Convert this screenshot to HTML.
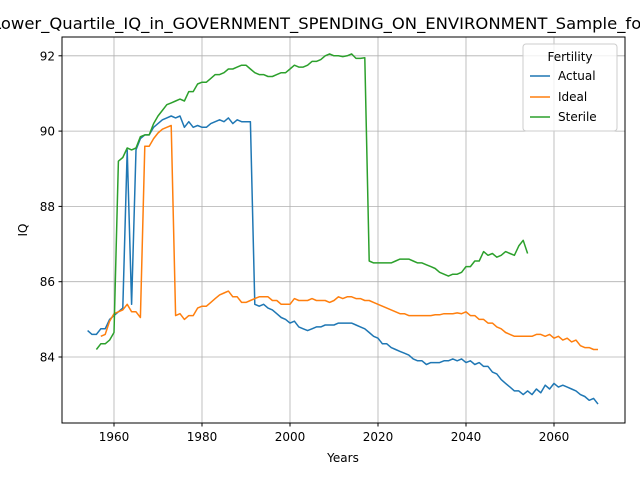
<!DOCTYPE html>
<html><head><meta charset="utf-8"><style>body{margin:0;background:#fff}svg{display:block;font-family:"DejaVu Sans","Liberation Sans",sans-serif}</style></head>
<body>
<svg id="chart" width="640" height="480" xmlns="http://www.w3.org/2000/svg">
<text x="320" y="29" text-anchor="middle" font-size="16" textLength="656" lengthAdjust="spacingAndGlyphs">Lower_Quartile_IQ_in_GOVERNMENT_SPENDING_ON_ENVIRONMENT_Sample_for</text>
<g id="grid"></g><g id="ticks"></g><g id="series"></g>
<rect x="62" y="37" width="563" height="386" fill="none" stroke="#000" stroke-width="1"/>
<text x="343" y="462" text-anchor="middle" font-size="12">Years</text>
<text x="27" y="230" text-anchor="middle" font-size="12" transform="rotate(-90 27 230)">IQ</text>
<g>
<rect x="523" y="44" width="94" height="87" rx="3" fill="#fff" fill-opacity="0.8" stroke="#ccc"/>
<text x="570" y="61" text-anchor="middle" font-size="12">Fertility</text>
<g><line x1="530" x2="550" y1="76" y2="76" stroke="#1f77b4" stroke-width="1.5"/><text x="558" y="80" font-size="12">Actual</text></g>
<g><line x1="530" x2="550" y1="97" y2="97" stroke="#ff7f0e" stroke-width="1.5"/><text x="558" y="101" font-size="12">Ideal</text></g>
<g><line x1="530" x2="550" y1="117" y2="117" stroke="#2ca02c" stroke-width="1.5"/><text x="558" y="121" font-size="12">Sterile</text></g>
</g>
</svg>
<script>
const xTicks=[1960,1980,2000,2020,2040,2060];
const yTicks=[84,86,88,90,92];
const actualStart=1954;
const actual=[84.7,84.6,84.6,84.75,84.75,85.0,85.1,85.2,85.3,89.5,85.4,89.5,89.8,89.9,89.9,90.1,90.2,90.3,90.35,90.4,90.35,90.4,90.1,90.25,90.1,90.15,90.1,90.1,90.2,90.25,90.3,90.25,90.35,90.2,90.3,90.25,90.25,90.25,85.4,85.35,85.4,85.3,85.25,85.15,85.05,85.0,84.9,84.95,84.8,84.75,84.7,84.75,84.8,84.8,84.85,84.85,84.85,84.9,84.9,84.9,84.9,84.85,84.8,84.75,84.65,84.55,84.5,84.35,84.35,84.25,84.2,84.15,84.1,84.05,83.95,83.9,83.9,83.8,83.85,83.85,83.85,83.9,83.9,83.95,83.9,83.95,83.85,83.9,83.8,83.85,83.75,83.75,83.6,83.55,83.4,83.3,83.2,83.1,83.1,83.0,83.1,83.0,83.15,83.05,83.25,83.15,83.3,83.2,83.25,83.2,83.15,83.1,83.0,82.95,82.85,82.9,82.75];
const idealStart=1957;
const ideal=[84.55,84.6,84.95,85.15,85.2,85.25,85.4,85.2,85.2,85.05,89.6,89.6,89.8,89.95,90.05,90.1,90.15,85.1,85.15,85.0,85.1,85.1,85.3,85.35,85.35,85.45,85.55,85.65,85.7,85.75,85.6,85.6,85.45,85.45,85.5,85.55,85.6,85.6,85.6,85.5,85.5,85.4,85.4,85.4,85.55,85.5,85.5,85.5,85.55,85.5,85.5,85.5,85.45,85.5,85.6,85.55,85.6,85.6,85.55,85.55,85.5,85.5,85.45,85.4,85.35,85.3,85.25,85.2,85.15,85.15,85.1,85.1,85.1,85.1,85.1,85.1,85.12,85.12,85.15,85.15,85.15,85.17,85.15,85.2,85.1,85.1,85.0,85.0,84.9,84.9,84.8,84.75,84.65,84.6,84.55,84.55,84.55,84.55,84.55,84.6,84.6,84.55,84.6,84.5,84.55,84.45,84.5,84.4,84.45,84.3,84.25,84.25,84.2,84.2];
const sterileStart=1956;
const sterile=[84.2,84.35,84.35,84.45,84.65,89.2,89.3,89.55,89.5,89.55,89.85,89.9,89.9,90.2,90.4,90.55,90.7,90.75,90.8,90.85,90.8,91.05,91.05,91.25,91.3,91.3,91.4,91.5,91.5,91.55,91.65,91.65,91.7,91.75,91.75,91.65,91.55,91.5,91.5,91.45,91.45,91.5,91.55,91.55,91.65,91.75,91.7,91.7,91.75,91.85,91.85,91.9,92.0,92.05,92.0,92.0,91.98,92.0,92.05,91.93,91.93,91.95,86.55,86.5,86.5,86.5,86.5,86.5,86.55,86.6,86.6,86.6,86.55,86.5,86.5,86.45,86.4,86.35,86.25,86.2,86.15,86.2,86.2,86.25,86.4,86.4,86.55,86.55,86.8,86.7,86.75,86.65,86.7,86.8,86.75,86.7,86.95,87.1,86.75];
const X=y=>114+(y-1960)*4.4;
const Y=v=>357-(v-84)*37.65;
const NS='http://www.w3.org/2000/svg';
function mk(t,a,p){const e=document.createElementNS(NS,t);for(const k in a)e.setAttribute(k,a[k]);p.appendChild(e);return e;}
const g=document.getElementById('grid'),tk=document.getElementById('ticks'),s=document.getElementById('series');
xTicks.forEach(t=>{const x=X(t);
const l=mk('line',{x1:x,x2:x,y1:37,y2:423,stroke:'#b0b0b0','stroke-width':0.8},g);


mk('line',{x1:x,x2:x,y1:423,y2:426.5,stroke:'#000'},tk);
const tx=mk('text',{x:x,y:441,'text-anchor':'middle','font-size':12},tk);tx.textContent=t;

});
yTicks.forEach(t=>{const y=Y(t);
const l=mk('line',{x1:62,x2:625,y1:y,y2:y,stroke:'#b0b0b0','stroke-width':0.8},g);


mk('line',{x1:58.5,x2:62,y1:y,y2:y,stroke:'#000'},tk);
const tx=mk('text',{x:55,y:y+4.5,'text-anchor':'end','font-size':12},tk);tx.textContent=t;

});
function line(arr,start,color,name){const d=arr.map((v,i)=>(i?'L':'M')+X(start+i).toFixed(1)+','+Y(v).toFixed(1)).join('');
const p=mk('path',{d:d,fill:'none',stroke:color,'stroke-width':1.5,'stroke-linejoin':'round'},s);

}
line(actual,actualStart,'#1f77b4','actual-line');
line(ideal,idealStart,'#ff7f0e','ideal-line');
line(sterile,sterileStart,'#2ca02c','sterile-line');
</script>
</body></html>
